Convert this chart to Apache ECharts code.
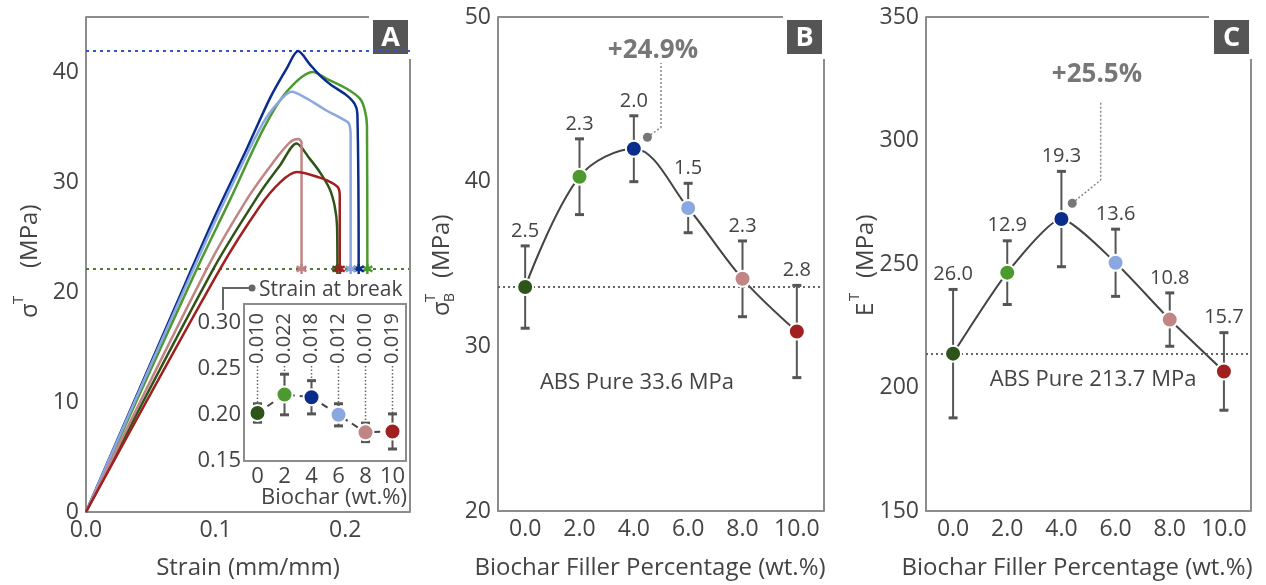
<!DOCTYPE html>
<html>
<head>
<meta charset="utf-8">
<script src="https://cdn.jsdelivr.net/npm/echarts@6/dist/echarts.min.js"></script>
<style>
html, body { margin: 0; padding: 0; background: #fff; }
#main { width: 1266px; height: 585px; }
</style>
</head>
<body>
<div id="main"></div>
<script>
// ---- data ----
var filler = [0, 2, 4, 6, 8, 10];
var pointColors = ['#2e5519', '#4c9a2f', '#0a2d8c', '#8aa7df', '#c08584', '#a01f1f'];

// A: stress-strain curves (strain, MPa), one per filler level
var curve0 = [[0,0],[0.0983,22.1],[0.1342,29.0],[0.1496,31.5],[0.1625,33.5],[0.1727,32.1],[0.1804,30.9],[0.1881,29.35],[0.1919,27.8],[0.1937,26.0],[0.1940,22.1]];
var curve2 = [[0,0],[0.0855,22.1],[0.1112,28.4],[0.1368,34.8],[0.1548,38.2],[0.1752,40.0],[0.1855,39.4],[0.2009,38.5],[0.2112,37.6],[0.2150,36.6],[0.2168,35.1],[0.2171,22.1]];
var curve4 = [[0,0],[0.0778,21.1],[0.0983,26.6],[0.1240,33.0],[0.1419,37.6],[0.1548,40.3],[0.1637,41.9],[0.1727,40.7],[0.1804,39.7],[0.1894,38.8],[0.2009,37.9],[0.2073,37.1],[0.2094,36.2],[0.2104,22.1]];
var curve6 = [[0,0],[0.0829,22.1],[0.1112,29.35],[0.1368,35.4],[0.1496,37.4],[0.1586,38.2],[0.1702,37.6],[0.1855,36.5],[0.1983,35.7],[0.2029,35.3],[0.2042,34.2],[0.2042,22.1]];
var curve8 = [[0,0],[0.0932,22.1],[0.1240,28.4],[0.1445,31.8],[0.1573,33.6],[0.1637,33.9],[0.1663,33.6],[0.1663,22.1]];
var curve10 = [[0,0],[0.1035,22.1],[0.1342,27.8],[0.1496,29.95],[0.1625,30.9],[0.1804,30.4],[0.1894,29.95],[0.1945,29.5],[0.1958,28.7],[0.1958,22.1]];
var curves = [curve0, curve2, curve4, curve6, curve8, curve10];
var peakStress = 41.9;
var breakStress = 22.1;

// inset: strain at break
var breakStrain = [0.202, 0.222, 0.219, 0.200, 0.181, 0.182];
var breakErr = [0.010, 0.022, 0.018, 0.012, 0.010, 0.019];

// B: tensile strength
var strength = [33.6, 40.3, 42.0, 38.4, 34.1, 30.9];
var strengthErr = [2.5, 2.3, 2.0, 1.5, 2.3, 2.8];
var leaderB = [[4.5, 42.7], [5.0, 43.3], [5.0, 47.2]];

// C: tensile modulus
var modulus = [213.7, 246.5, 268.2, 250.5, 227.5, 206.5];
var modulusErr = [26.0, 12.9, 19.3, 13.6, 10.8, 15.7];
var leaderC = [[4.4, 274.6], [5.45, 284], [5.45, 315.7]];

// ---- chart ----
var myChart = echarts.init(document.getElementById('main'));
var FONT = '"Open Sans", sans-serif';
var GRAY = '#8c8c8c';
var TXT = '#444';

function axis(grid, min, max, interval, labelOpt) {
    var lab = { color: TXT, fontSize: 23, fontFamily: FONT, margin: 7 };
    for (var k in labelOpt) lab[k] = labelOpt[k];
    return {
        type: 'value', gridIndex: grid, min: min, max: max, interval: interval,
        axisLine: { show: true, onZero: false, lineStyle: { color: GRAY, width: 2 } },
        axisTick: { show: false },
        splitLine: { show: false },
        axisLabel: lab
    };
}
function evenFmt(dec) {
    return function (v) {
        var r = Math.round(v);
        if (r < 0 || r > 10 || r % 2 !== 0) return '';
        return r.toFixed(dec);
    };
}

// error bars (custom series); inset variant adds rotated labels and leaders
function errorBars(idx, means, errs, digits, inset) {
    return {
        type: 'custom', xAxisIndex: idx, yAxisIndex: idx, z: 3, silent: true,
        data: filler.map(function (x, i) { return [x, means[i], errs[i]]; }),
        renderItem: function (params, api) {
            var x = api.value(0), m = api.value(1), e = api.value(2);
            var t = api.coord([x, m + e]), b = api.coord([x, m - e]), c = api.coord([x, m]);
            var st = { stroke: '#555', lineWidth: 2 };
            var cap = { stroke: '#555', lineWidth: 3 };
            var ch = [];
            if (inset) {
                var ly = params.coordSys.y + 60;
                ch.push({ type: 'line', shape: { x1: c[0], y1: ly + 2, x2: c[0], y2: c[1] },
                    style: { stroke: '#666', lineWidth: 1.5, lineDash: [1.5, 2] } });
                ch.push({ type: 'text', x: c[0], y: ly, rotation: Math.PI / 2,
                    style: { text: e.toFixed(digits), font: '20px ' + FONT, fill: TXT,
                        align: 'left', verticalAlign: 'middle' } });
            }
            ch.push({ type: 'line', shape: { x1: t[0], y1: t[1], x2: b[0], y2: b[1] }, style: st });
            ch.push({ type: 'line', shape: { x1: t[0] - 4.5, y1: t[1], x2: t[0] + 4.5, y2: t[1] }, style: cap });
            ch.push({ type: 'line', shape: { x1: b[0] - 4.5, y1: b[1], x2: b[0] + 4.5, y2: b[1] }, style: cap });
            if (!inset) {
                ch.push({ type: 'text', x: t[0], y: t[1] - 5,
                    style: { text: e.toFixed(digits), font: '20px ' + FONT, fill: TXT,
                        align: 'center', verticalAlign: 'bottom' } });
            }
            return { type: 'group', children: ch };
        }
    };
}
function markers(idx, means, size) {
    return {
        type: 'scatter', xAxisIndex: idx, yAxisIndex: idx, z: 5, symbolSize: size,
        data: filler.map(function (x, i) {
            return { value: [x, means[i]], itemStyle: { color: pointColors[i], opacity: 1, borderColor: '#fff', borderWidth: 2 } };
        })
    };
}
function trendLine(idx, means, smooth, dashed, refValue) {
    var s = {
        type: 'line', xAxisIndex: idx, yAxisIndex: idx, z: 2, showSymbol: false, smooth: smooth,
        lineStyle: { color: '#444', width: 2, type: dashed ? [7, 5] : 'solid' },
        data: filler.map(function (x, i) { return [x, means[i]]; })
    };
    if (refValue != null) {
        s.markLine = { silent: true, symbol: 'none', label: { show: false },
            lineStyle: { color: '#666', width: 2, type: [2, 3] }, data: [{ yAxis: refValue }] };
    }
    return s;
}
function leader(idx, pts) {
    return [{
        type: 'line', xAxisIndex: idx, yAxisIndex: idx, z: 2, showSymbol: false,
        lineStyle: { color: '#888', width: 1.5, type: [2, 2] }, data: pts
    }, {
        type: 'scatter', xAxisIndex: idx, yAxisIndex: idx, z: 4, symbolSize: 9,
        itemStyle: { color: '#777', opacity: 1 }, data: [pts[0]]
    }];
}

var asterisk = 'path://M5,0L5,10M0.67,2.5L9.33,7.5M0.67,7.5L9.33,2.5';
var series = [];
curves.forEach(function (cv, i) {
    var s = { type: 'line', xAxisIndex: 0, yAxisIndex: 0, showSymbol: false, smooth: 0.3, z: 2,
        lineStyle: { color: pointColors[i], width: 2.5 }, data: cv };
    if (i === 2) {
        s.markLine = { silent: true, symbol: 'none', label: { show: false }, z: 1,
            data: [
                { yAxis: peakStress, lineStyle: { color: '#3056c8', width: 2, type: [3, 4] } },
                { yAxis: breakStress, lineStyle: { color: '#4e7d34', width: 2, type: [3, 4] } }
            ] };
    }
    series.push(s);
});
series.push({
    type: 'scatter', xAxisIndex: 0, yAxisIndex: 0, z: 4, symbol: asterisk, symbolSize: 10,
    data: curves.map(function (cv, i) {
        var c = pointColors[i];
        return { value: cv[cv.length - 1], itemStyle: { color: c, opacity: 1, borderColor: c, borderWidth: 2.5 } };
    })
});
// inset (index 3)
series.push(errorBars(3, breakStrain, breakErr, 3, true));
series.push(trendLine(3, breakStrain, false, true));
series.push(markers(3, breakStrain, 16));
// B (index 1)
series.push(errorBars(1, strength, strengthErr, 1, false));
series.push(trendLine(1, strength, 0.35, false, strength[0]));
series = series.concat(leader(1, leaderB));
series.push(markers(1, strength, 16));
// C (index 2)
series.push(errorBars(2, modulus, modulusErr, 1, false));
series.push(trendLine(2, modulus, 0.2, false, modulus[0]));
series = series.concat(leader(2, leaderC));
series.push(markers(2, modulus, 16));

function rotTitle(x0, y0, parts) {
    return { type: 'group', x: x0, y: y0, rotation: Math.PI / 2, z: 50,
        children: parts.map(function (p) {
            return { type: 'text', x: p[1], y: p[2],
                style: { text: p[0], font: p[3] + 'px ' + FONT, fill: TXT, align: 'left', verticalAlign: 'middle' } };
        }) };
}
function hText(txt, x, y, size, opt) {
    var st = { text: txt, font: size + 'px ' + FONT, fill: TXT, align: 'center', verticalAlign: 'middle' };
    for (var k in opt) st[k] = opt[k];
    return { type: 'text', x: x, y: y, z: 50, style: st };
}
function panelTag(letter, x, y) {
    return { type: 'group', x: x, y: y, z: 60, children: [
        { type: 'rect', shape: { x: 0, y: 0, width: 35, height: 34 }, style: { fill: '#555' } },
        { type: 'text', x: 17.5, y: 18, style: { text: letter, font: 'bold 27px ' + FONT, fill: '#fff', align: 'center', verticalAlign: 'middle' } }
    ] };
}
function frameLine(x1, y1, x2, y2) {
    return { type: 'line', z: 40, shape: { x1: x1, y1: y1, x2: x2, y2: y2 }, style: { stroke: GRAY, lineWidth: 2 } };
}

option = {
    animation: false,
    grid: [
        { left: 86, top: 17, width: 324, height: 495 },
        { left: 498, top: 17, width: 326, height: 494 },
        { left: 926, top: 17, width: 325, height: 494 },
        { left: 244, top: 304, width: 162, height: 157, show: true, backgroundColor: '#fff', borderColor: GRAY, borderWidth: 2 }
    ],
    xAxis: [
        axis(0, 0, 0.25, 0.1, { showMaxLabel: false, formatter: function (v) { return v.toFixed(1); } }),
        axis(1, -1, 11, 1, { formatter: evenFmt(1) }),
        axis(2, -1, 11, 1, { formatter: evenFmt(1) }),
        axis(3, -1, 11, 1, { formatter: evenFmt(0), fontSize: 22, margin: 5 })
    ],
    yAxis: [
        axis(0, 0, 45, 10, { showMaxLabel: false }),
        axis(1, 20, 50, 10, {}),
        axis(2, 150, 350, 50, {}),
        axis(3, 0.15, 0.32, 0.05, { showMaxLabel: false, fontSize: 22, margin: 3, formatter: function (v) { return v.toFixed(2); } })
    ],
    series: series,
    graphic: [
        frameLine(86, 17, 369, 17), frameLine(410, 59, 410, 512),
        frameLine(498, 17, 783, 17), frameLine(824, 59, 824, 511),
        frameLine(926, 17, 1209, 17), frameLine(1251, 59, 1251, 511),
        panelTag('A', 373, 20), panelTag('B', 787, 20), panelTag('C', 1214, 20),
        rotTitle(30, 318, [['σ', 0, 0, 24], ['T', 14, -11, 15], ['(MPa)', 50, 0, 24]]),
        rotTitle(442, 316, [['σ', 0, 0, 24], ['T', 14, -11, 15], ['B', 14, 8, 14], ['(MPa)', 38, 0, 24]]),
        rotTitle(866, 316, [['E', 0, 0, 24], ['T', 15, -11, 15], ['(MPa)', 38, 0, 24]]),
        hText('Strain (mm/mm)', 248, 568, 24),
        hText('Biochar Filler Percentage (wt.%)', 650, 568, 24),
        hText('Biochar Filler Percentage (wt.%)', 1077, 568, 24),
        hText('Biochar (wt.%)', 334, 498, 22),
        hText('Strain at break', 259, 290, 21, { align: 'left' }),
        { type: 'polyline', z: 50, shape: { points: [[223, 310], [223, 288], [252, 288]] }, style: { stroke: '#666', lineWidth: 2, fill: null } },
        { type: 'circle', z: 51, shape: { cx: 252, cy: 288, r: 3.5 }, style: { fill: '#666' } },
        hText('+24.9%', 653, 51, 26, { font: 'bold 26px ' + FONT, fill: '#777' }),
        hText('+25.5%', 1097, 75, 26, { font: 'bold 26px ' + FONT, fill: '#777' }),
        hText('ABS Pure 33.6 MPa', 637, 383, 22),
        hText('ABS Pure 213.7 MPa', 1093, 380, 22)
    ]
};
myChart.setOption(option);
window.onresize = function () { myChart.resize(); };
</script>
</body>
</html>
